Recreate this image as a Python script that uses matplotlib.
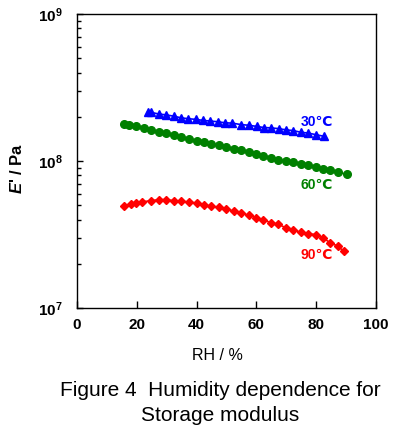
import matplotlib
matplotlib.use('Agg')
import matplotlib.pyplot as plt
from matplotlib.ticker import FixedLocator, FixedFormatter, LogLocator, NullFormatter

plt.rcParams['font.family'] = ['Liberation Sans', 'DejaVu Sans']
plt.rcParams['mathtext.fontset'] = 'custom'
plt.rcParams['mathtext.rm'] = 'Liberation Sans'
plt.rcParams['mathtext.bf'] = 'Liberation Sans:bold'
plt.rcParams['mathtext.it'] = 'Liberation Sans:italic:bold'

# data (RH in %, E' in Pa)
rh_30 = [23.6, 24.9, 27.3, 29.8, 32.3, 34.7, 37.2, 39.7, 42.1, 44.6, 47.1, 49.5,
         52.0, 54.8, 57.6, 60.1, 62.5, 65.0, 67.5, 69.9, 72.4, 74.8, 77.3, 80.0, 82.8]
e_30 = [2.14e8, 2.14e8, 2.09e8, 2.06e8, 2.02e8, 1.97e8, 1.94e8, 1.92e8, 1.89e8, 1.87e8,
        1.85e8, 1.82e8, 1.81e8, 1.77e8, 1.75e8, 1.72e8, 1.69e8, 1.68e8, 1.66e8, 1.63e8,
        1.61e8, 1.57e8, 1.55e8, 1.51e8, 1.47e8]

rh_60 = [15.6, 17.3, 19.8, 22.3, 24.9, 27.3, 29.9, 32.4, 34.8, 37.4, 40.0, 42.5, 44.9,
         47.4, 50.0, 52.4, 54.9, 57.4, 59.9, 62.4, 64.9, 67.3, 69.9, 72.4, 74.8, 77.3,
         79.9, 82.4, 84.8, 87.3, 90.2]
e_60 = [1.79e8, 1.77e8, 1.72e8, 1.69e8, 1.62e8, 1.57e8, 1.54e8, 1.50e8, 1.46e8, 1.42e8,
        1.37e8, 1.34e8, 1.31e8, 1.28e8, 1.25e8, 1.21e8, 1.19e8, 1.15e8, 1.12e8, 1.09e8,
        1.05e8, 1.02e8, 9.95e7, 9.9e7, 9.6e7, 9.35e7, 9.1e7, 8.87e7, 8.64e7, 8.42e7, 8.11e7]

rh_90 = [15.6, 18.0, 19.8, 21.7, 24.9, 27.3, 29.9, 32.4, 34.8, 37.4, 40.0, 42.5, 44.9,
         47.4, 50.0, 52.4, 54.9, 57.4, 59.9, 62.4, 64.9, 67.3, 69.9, 72.4, 74.8, 77.3,
         79.9, 82.4, 84.8, 87.3, 89.3]
e_90 = [4.97e7, 5.09e7, 5.17e7, 5.28e7, 5.37e7, 5.46e7, 5.46e7, 5.37e7, 5.32e7, 5.26e7,
        5.17e7, 5.02e7, 4.92e7, 4.84e7, 4.71e7, 4.57e7, 4.41e7, 4.29e7, 4.12e7, 3.97e7,
        3.81e7, 3.71e7, 3.52e7, 3.41e7, 3.27e7, 3.20e7, 3.16e7, 2.98e7, 2.78e7, 2.63e7, 2.43e7]

labels = ['30℃', '60℃', '90℃']
label_x = [80.3, 80.3, 80.3]
label_y = [1.84e8, 6.9e7, 2.3e7]

fig = plt.figure(figsize=(3.94, 4.34), dpi=100)
ax = fig.add_axes([0.1954, 0.2903, 0.7586, 0.6774])

ax.plot(rh_30, e_30, '-^', color='#0000ff', ms=5.5, lw=1.2)
ax.plot(rh_60, e_60, '-o', color='#008000', ms=5.5, lw=1.2)
ax.plot(rh_90, e_90, '-D', color='#ff0000', ms=4.5, lw=1.2)

cols = ['#0000ff', '#008000', '#ff0000']
for t, x, y, c in zip(labels, label_x, label_y, cols):
    ax.text(x, y, t, color=c, fontsize=10, fontweight='bold', ha='center', va='center')

ax.set_yscale('log')
ax.set_xlim(0, 100)
ax.set_ylim(1e7, 1e9)
ax.set_xticks([0, 20, 40, 60, 80, 100])
ax.yaxis.set_major_locator(FixedLocator([1e7, 1e8, 1e9]))
ax.yaxis.set_major_formatter(FixedFormatter([r'$\mathbf{10^{7}}$', r'$\mathbf{10^{8}}$', r'$\mathbf{10^{9}}$']))
ax.yaxis.set_minor_locator(LogLocator(base=10, subs=range(2, 10)))
ax.yaxis.set_minor_formatter(NullFormatter())

ax.tick_params(axis='both', which='both', direction='in', top=False, right=False)
ax.tick_params(axis='x', which='major', length=5, width=1, pad=7, labelsize=11)
ax.tick_params(axis='y', which='major', length=4.5, width=1, pad=10, labelsize=11)
ax.tick_params(axis='y', which='minor', length=3, width=1)
for lab in ax.get_xticklabels():
    lab.set_fontweight('bold')
for sp in ax.spines.values():
    sp.set_linewidth(1)

ax.set_xlabel('RH / %', fontsize=11.5)
ax.xaxis.set_label_coords(0.471, -0.136)
ax.set_ylabel(r"$E$' / Pa", fontsize=12, fontweight='bold')
ax.yaxis.set_label_coords(-0.175, 0.476)

fig.text(0.558, 0.0876, 'Figure 4  Humidity dependence for', ha='center', va='baseline', fontsize=15)
fig.text(0.558, 0.0306, 'Storage modulus', ha='center', va='baseline', fontsize=15)

fig.savefig('out.png', dpi=100)
